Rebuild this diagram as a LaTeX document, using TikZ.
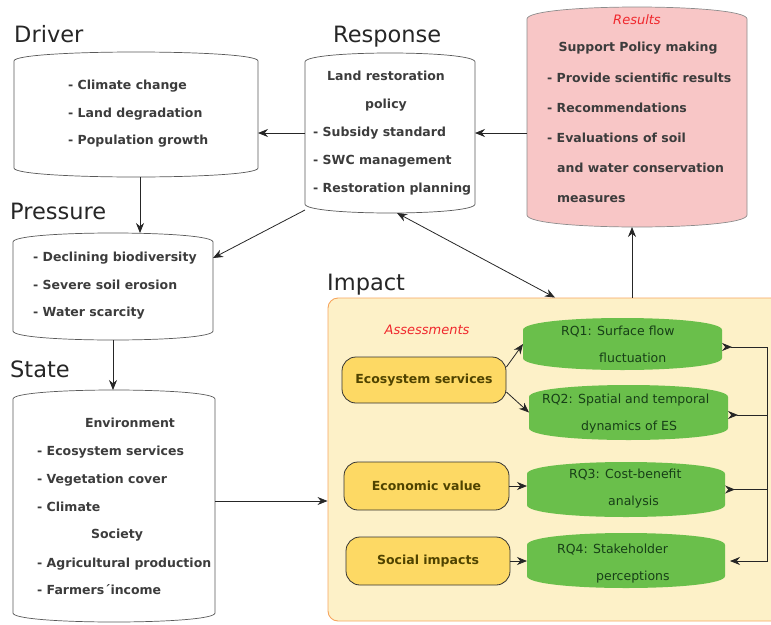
\documentclass[tikz,border=0pt]{standalone}
\usepackage{fontspec}
\setmainfont{DejaVu Sans}
\usetikzlibrary{arrows.meta,calc}
\definecolor{txtgray}{HTML}{3C3C3C}
\definecolor{pinkfill}{HTML}{F8C6C6}
\definecolor{impfill}{HTML}{FDF1C8}
\definecolor{impdraw}{HTML}{F6A55E}
\definecolor{yelfill}{HTML}{FDD964}
\definecolor{greenfill}{HTML}{6ABF4B}
\definecolor{greentext}{HTML}{173F17}
\definecolor{olivetext}{HTML}{4F4300}
\definecolor{redtext}{HTML}{F0282D}
\newcommand\bulgeoutline[3]{%
 \path[#2] ([yshift=-#3pt]#1.north west) .. controls ([yshift={#3/3*1pt}]#1.north west) and ([yshift={#3/3*1pt}]#1.north east) .. ([yshift=-#3pt]#1.north east) -- ([yshift=#3pt]#1.south east) .. controls ([yshift={-#3/3*1pt}]#1.south east) and ([yshift={-#3/3*1pt}]#1.south west) .. ([yshift=#3pt]#1.south west) -- cycle;}
\tikzset{
 area/.style={draw=none, inner sep=0, outer sep=0},
 grayline/.style={draw=black!65, line width=0.7pt, fill=white},
 pinkbox/.style={draw=black!45, line width=0.7pt, fill=pinkfill},
 greenbox/.style={fill=greenfill},
 yelbox/.style={draw=black!80, line width=0.8pt, fill=yelfill, rounded corners=14pt, inner sep=0,
   font=\fontsize{12.5}{15}\selectfont\bfseries, text=olivetext},
 conn/.style={draw=black!85, line width=0.8pt},
 >={Stealth[length=10pt,width=8pt]},
 revtip/.style={{Stealth[reversed,length=10pt,width=8pt]}-},
 label/.style={font=\fontsize{22.5}{27}\selectfont, text=black!85, anchor=base west, inner sep=0},
 listtext/.style={font=\fontsize{12.5}{#1}\selectfont\bfseries, text=txtgray, align=left, anchor=west, inner sep=0},
 listtext/.default=28,
 rqtext/.style={font=\fontsize{12.5}{27}\selectfont, text=greentext, align=left, anchor=west, inner sep=0},
 redital/.style={font=\fontsize{13}{16}\selectfont\itshape, text=redtext, inner sep=0}
}
\begin{document}
\begin{tikzpicture}[x=1pt,y=-1pt]
\useasboundingbox (0,0) rectangle (771,624);
\clip (0,0) rectangle (771,624);
% box areas
\node[area, minimum width=244pt, minimum height=125pt] (driver) at (136,114.5) {};
\node[area, minimum width=170pt, minimum height=160pt] (response) at (390,133) {};
\node[area, minimum width=220pt, minimum height=220pt] (results) at (637,117) {};
\node[area, minimum width=200pt, minimum height=107pt] (pressure) at (113,286.5) {};
\node[area, minimum width=202pt, minimum height=232pt] (state) at (114,506) {};
\node[draw=impdraw, fill=impfill, line width=0.9pt, rounded corners=10pt, inner sep=0,
      minimum width=462pt, minimum height=323pt] (impact) at (559,459.5) {};
\node[area, minimum width=199pt, minimum height=52pt] (rq1) at (622.5,344) {};
\node[area, minimum width=199pt, minimum height=55pt] (rq2) at (628.5,412.5) {};
\node[area, minimum width=198pt, minimum height=55pt] (rq3) at (626,489.5) {};
\node[area, minimum width=198pt, minimum height=55pt] (rq4) at (626,560.5) {};
% outlines
\bulgeoutline{driver}{grayline}{9}
\bulgeoutline{response}{grayline}{9}
\bulgeoutline{results}{pinkbox}{12}
\bulgeoutline{pressure}{grayline}{9}
\bulgeoutline{state}{grayline}{9}
\bulgeoutline{rq1}{greenbox}{12}
\bulgeoutline{rq2}{greenbox}{12}
\bulgeoutline{rq3}{greenbox}{12}
\bulgeoutline{rq4}{greenbox}{12}
% yellow boxes
\node[yelbox, minimum width=164pt, minimum height=46pt] (eco) at (424,380) {Ecosystem services};
\node[yelbox, minimum width=165pt, minimum height=48pt] (econ) at (426.5,486) {Economic value};
\node[yelbox, minimum width=164pt, minimum height=48pt] (social) at (428,561) {Social impacts};
% labels
\node[label] (lDriver) at (14,42) {Driver};
\node[label] (lResponse) at (333,42) {Response};
\node[label] (lPressure) at (10,219) {Pressure};
\node[label] (lState) at (10,377) {State};
\node[label] (lImpact) at (327,290) {Impact};
% texts
\node[listtext=27.5] (tDriver) at (68,114) {- Climate change\\- Land degradation\\- Population growth};
\node[listtext, align=center, anchor=center] (tResp1) at (386,91) {Land restoration\\policy};
\node[listtext] (tResp2) at (313,161) {- Subsidy standard\\- SWC management\\- Restoration planning};
\node[redital] (tResT) at (637,20) {Results};
\node[listtext, anchor=center] (tRes1) at (638,48) {Support Policy making};
\node[listtext=30] (tRes2) at (547,138) {- Provide scientific results\\- Recommendations\\- Evaluations of soil\\\hspace*{10pt}and water conservation\\\hspace*{10pt}measures};
\node[listtext=27.5] (tPress) at (33,286) {- Declining biodiversity\\- Severe soil erosion\\- Water scarcity};
\node[listtext, anchor=center] (tEnv) at (130,423) {Environment};
\node[listtext] (tState1) at (37,479) {- Ecosystem services\\- Vegetation cover\\- Climate};
\node[listtext, anchor=center] (tSoc) at (117,535) {Society};
\node[listtext=27] (tState2) at (37,576.5) {- Agricultural production\\- Farmers´income};
\node[redital] (tAss) at (427,330) {Assessments};
\node[rqtext] (tRQ1) at (561,344.5) {RQ1: Surface flow\\\hspace*{38pt}fluctuation};
\node[rqtext] (tRQ2) at (542,413.5) {RQ2: Spatial and temporal\\\hspace*{39pt}dynamics of ES};
\node[rqtext] (tRQ3) at (569,489) {RQ3: Cost-benefit\\\hspace*{39pt}analysis};
\node[rqtext] (tRQ4) at (557,563.5) {RQ4: Stakeholder\\\hspace*{39pt}perceptions};
% connectors
\coordinate (resbot) at ([xshift=-5pt]results.south);
\coordinate (dp) at ([xshift=4pt]driver.south);
\coordinate (se) at ([yshift=5pt]state.east);
\coordinate (bartop) at (767,347);
\coordinate (barbot) at (767,561);
\coordinate (rq4in) at ($(rq4.east |- barbot)+(5,0)$);
\coordinate (r1) at ([yshift=-3pt]rq1.east);
\coordinate (r2) at ([yshift=-2.5pt]rq2.east);
\draw[conn,->] (response.west) -- (response.west -| driver.east);
\draw[conn,->] (results.west |- response.west) -- (response.east);
\draw[conn,->] (resbot |- impact.north) -- (resbot);
\draw[conn,->] (dp) -- (dp |- pressure.north);
\draw[conn,->] (pressure.south) -- (pressure.south |- state.north);
\draw[conn,->] ([yshift=3pt]response.south west) -- ([yshift=-25pt]pressure.north east);
\draw[conn,<->] ([xshift=7pt]response.south) -- ([xshift=-4pt]impact.north);
\draw[conn,->] (se) -- (se -| impact.west);
\draw[conn,->] ([yshift=13pt]eco.east) -- (rq1.west);
\draw[conn,->] ([yshift=-12pt]eco.east) -- (rq2.west);
\draw[conn,->] (econ.east) -- (econ.east -| rq3.west);
\draw[conn,->] (social.east) -- (social.east -| rq4.west);
\draw[conn,{Stealth[reversed,length=10pt,width=8pt]}->] (r1) -- (bartop) -- (barbot) -- (rq4in);
\draw[conn,revtip] (r2) -- (r2 -| bartop);
\draw[conn,revtip] (rq3.east) -- (rq3.east -| bartop);
\end{tikzpicture}
\end{document}
